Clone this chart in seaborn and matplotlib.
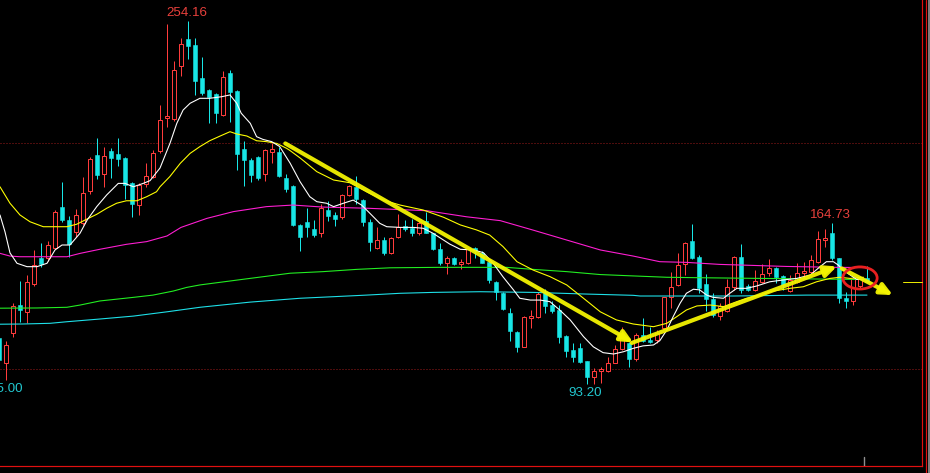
import numpy as np
import pandas as pd
import matplotlib
matplotlib.use("Agg")
import matplotlib.pyplot as plt
from matplotlib.lines import Line2D
from matplotlib.patches import Ellipse
import seaborn as sns

# ---------------- data ----------------
opens = [113.5, 102.5, 115.8, 128.3, 125.3, 137.6, 149.0, 149.0, 153.4, 171.6,
         166.0, 160.5, 164.8, 179.0, 194.8, 186.2, 196.5, 195.1, 193.6, 182.5,
         172.6, 181.9, 185.2, 196.7, 211.3, 210.7, 234.3, 246.2, 243.5, 228.8,
         223.6, 221.8, 212.5, 231.2, 223.1, 197.3, 192.6, 194.0, 186.4, 196.2,
         196.2, 184.5, 181.2, 163.8, 165.1, 162.0, 160.1, 170.4, 168.2, 167.2,
         177.1, 180.5, 174.8, 164.9, 153.4, 157.1, 151.2, 158.6, 163.2, 162.3,
         160.1, 165.7, 160.1, 153.1, 147.1, 149.0, 146.5, 147.1, 153.4, 151.5,
         147.5, 138.6, 133.8, 124.9, 116.5, 109.8, 122.4, 123.1, 133.5, 128.3,
         126.1, 114.6, 108.4, 109.4, 103.5, 96.3, 99.2, 99.2, 102.7, 108.7,
         111.6, 104.2, 115.0, 112.8, 112.8, 118.0, 131.7, 137.2, 146.5, 156.7,
         149.7, 137.6, 130.8, 123.4, 125.8, 136.1, 149.4, 136.7, 135.0, 138.6,
         142.6, 144.6, 141.2, 134.7, 138.6, 142.4, 143.1, 147.5, 157.1, 160.1,
         149.0, 131.3, 130.2, 136.7, 140.1]
closes = [104.0, 110.6, 127.9, 126.1, 138.4, 146.0, 146.5, 154.9, 169.4, 166.0,
          155.3, 168.2, 177.8, 192.9, 186.0, 194.3, 193.6, 193.1, 181.5, 173.1,
          181.5, 185.5, 195.5, 210.3, 212.1, 232.4, 243.9, 243.1, 227.7, 222.4,
          220.3, 213.5, 229.2, 222.8, 195.2, 192.6, 185.9, 184.5, 197.0, 197.3,
          185.6, 179.7, 163.8, 158.6, 163.0, 159.5, 171.3, 167.9, 166.5, 176.9,
          181.0, 175.2, 165.2, 156.4, 157.1, 151.2, 157.9, 162.7, 162.0, 160.3,
          164.8, 160.3, 153.0, 147.1, 149.0, 146.5, 147.5, 153.4, 152.4, 147.1,
          139.4, 134.2, 126.6, 116.9, 109.8, 122.9, 123.4, 133.2, 127.9, 125.6,
          114.3, 108.1, 105.1, 103.2, 96.3, 99.2, 99.8, 102.7, 108.7, 114.6,
          104.2, 115.0, 112.5, 112.0, 115.8, 131.7, 136.4, 146.0, 155.6, 149.3,
          135.7, 130.8, 123.9, 127.9, 136.1, 149.4, 135.0, 135.0, 139.1, 142.1,
          144.6, 140.6, 137.2, 139.4, 142.4, 143.4, 148.3, 157.4, 158.1, 149.0,
          131.3, 130.2, 139.7, 139.7, 138.6]
highs = [115.0, 112.5, 129.3, 138.9, 141.6, 152.7, 155.9, 156.7, 170.4, 183.0,
         167.8, 170.8, 185.2, 194.0, 202.2, 198.5, 197.7, 202.2, 194.0, 182.8,
         182.2, 191.1, 197.0, 216.9, 252.8, 236.4, 246.5, 254.16, 246.5, 238.3,
         224.0, 222.4, 232.0, 232.4, 223.6, 201.0, 193.3, 194.3, 197.3, 200.2,
         198.5, 186.4, 181.5, 164.2, 171.4, 166.0, 173.1, 174.5, 169.4, 177.5,
         181.5, 185.5, 175.2, 166.3, 162.7, 158.6, 158.3, 168.6, 166.0, 166.3,
         165.7, 169.7, 160.3, 155.6, 150.0, 149.7, 148.6, 154.1, 153.9, 152.4,
         148.0, 138.8, 134.0, 126.8, 116.7, 123.4, 126.1, 134.2, 135.3, 130.2,
         128.3, 114.8, 111.6, 111.6, 103.6, 100.3, 100.7, 105.4, 110.6, 118.7,
         112.0, 115.8, 122.4, 118.4, 117.2, 132.0, 143.1, 151.2, 156.4, 164.2,
         150.5, 142.1, 133.5, 129.1, 139.7, 150.0, 155.3, 137.6, 143.8, 146.5,
         148.6, 145.3, 141.6, 141.6, 146.8, 147.5, 150.5, 161.2, 161.8, 164.73,
         149.0, 134.2, 140.1, 139.9, 145.6]
lows = [103.0, 95.0, 114.0, 120.9, 120.2, 136.9, 145.3, 148.0, 153.0, 165.2,
        149.4, 158.3, 163.8, 177.4, 184.1, 180.5, 184.7, 189.9, 175.2, 167.4,
        168.2, 180.7, 184.5, 195.8, 207.1, 209.8, 229.9, 237.3, 221.4, 221.4,
        209.1, 208.8, 212.1, 209.5, 188.1, 181.2, 182.9, 183.7, 183.4, 191.1,
        185.2, 178.5, 163.3, 152.4, 158.6, 158.3, 158.3, 165.7, 163.3, 166.3,
        176.6, 173.1, 163.3, 152.4, 153.1, 150.5, 150.9, 157.9, 161.2, 158.9,
        159.3, 160.1, 152.7, 146.0, 142.1, 146.0, 144.1, 146.5, 149.0, 146.8,
        138.2, 130.5, 126.1, 112.5, 107.6, 109.6, 118.0, 122.4, 124.9, 124.6,
        111.3, 105.1, 103.2, 102.8, 93.2, 93.3, 93.9, 98.8, 102.5, 108.4,
        101.0, 103.6, 112.0, 111.3, 111.6, 117.5, 126.8, 136.7, 141.6, 148.6,
        133.5, 125.8, 122.9, 121.7, 125.3, 135.0, 133.5, 134.5, 134.7, 138.2,
        141.2, 138.2, 135.0, 134.2, 137.9, 140.1, 142.4, 146.8, 154.1, 148.3,
        129.1, 126.8, 128.3, 135.8, 138.3]

# moving-average lines, sampled along the picture (candle index, price)
ma_white_x = [0.14, 0.86, 1.57, 2.57, 4.0, 5.43, 6.86, 8.0, 9.0, 10.14, 11.57, 12.6, 13.96,
              15.39, 17.04, 18.0, 19.2, 20.6, 21.57, 23.0, 24.43, 25.4, 26.3, 27.3, 28.7,
              30.1, 31.8, 33.0, 33.96, 34.6, 35.9, 36.8, 37.7, 38.96, 40.1, 41.6, 43.0,
              44.4, 45.4, 46.8, 47.8, 49.2, 50.6, 51.8, 53.0, 54.4, 55.4, 57.3, 59.2,
              60.6, 62.0, 63.5, 64.4, 65.9, 67.8, 69.2, 70.6, 72.0, 73.5, 74.4, 75.9,
              77.3, 78.7, 80.1, 81.6, 83.5, 84.9, 86.3, 87.8, 89.2, 90.6, 92.0, 93.5,
              94.4, 95.4, 96.3, 97.3, 98.2, 99.2, 100.1, 101.1, 102.0, 103.5, 104.4,
              105.4, 106.8, 108.2, 110.1, 112.0, 113.96, 115.9, 117.3, 118.2, 119.2,
              119.9, 120.6, 121.6, 122.5, 123.5]
ma_white_y = [168.2, 160.7, 151.4, 146.8, 145.3, 145.3, 146.8, 152.7, 154.9, 154.9, 160.1,
              166.0, 171.9, 177.1, 182.2, 182.2, 180.7, 182.2, 183.4, 189.0, 200.0, 208.8,
              214.7, 217.7, 219.9, 219.9, 220.6, 221.4, 217.7, 213.3, 208.8, 202.9, 201.7,
              200.7, 198.5, 191.1, 183.0, 176.3, 174.1, 173.4, 171.9, 173.4, 174.8, 172.6,
              168.9, 164.5, 163.0, 162.7, 162.7, 162.3, 160.1, 157.1, 155.3, 153.0, 152.7,
              151.5, 146.8, 140.8, 135.0, 131.3, 130.5, 130.5, 129.8, 126.1, 121.7, 114.3,
              109.8, 107.2, 106.6, 107.6, 109.1, 110.2, 110.6, 112.5, 117.2, 123.1, 129.1,
              133.5, 135.3, 135.0, 132.7, 131.7, 131.3, 133.5, 135.7, 135.7, 136.7, 138.6,
              139.4, 140.1, 141.6, 145.3, 147.5, 147.5, 146.0, 143.8, 141.6, 139.7, 139.7]

ma_yellow_x = [0.14, 1.57, 3.0, 4.43, 6.33, 7.76, 9.67, 11.1, 12.5, 13.96, 15.4, 16.8, 18.2,
               19.7, 21.1, 22.5, 23.0, 24.4, 25.9, 27.3, 28.7, 30.1, 31.6, 33.0, 33.96,
               35.4, 36.8, 38.2, 39.7, 41.1, 41.6, 43.0, 45.4, 47.8, 50.1, 52.5, 54.9,
               57.3, 60.6, 63.5, 65.9, 68.2, 70.1, 72.0, 74.0, 76.3, 78.7, 81.1, 83.5,
               85.9, 88.2, 90.6, 93.5, 95.4, 96.8, 98.2, 99.7, 101.6, 103.5, 105.4, 106.8,
               108.7, 110.1, 113.0, 114.9, 116.8, 118.7, 120.1, 121.6, 123.5]
ma_yellow_y = [180.7, 173.4, 168.2, 165.2, 163.0, 163.0, 163.0, 164.1, 166.3, 168.5, 171.2,
               173.4, 174.5, 174.5, 176.3, 178.5, 180.7, 185.2, 191.1, 195.5, 198.5, 201.1,
               203.2, 205.1, 204.1, 203.2, 201.1, 200.7, 199.9, 197.7, 196.7, 193.5, 187.4,
               183.7, 182.5, 178.5, 174.8, 172.6, 170.4, 167.2, 163.8, 161.6, 159.3, 154.2,
               147.5, 143.8, 140.9, 137.2, 131.3, 125.3, 121.7, 119.9, 118.7, 120.2, 123.1,
               126.1, 127.9, 128.3, 127.6, 129.8, 131.3, 132.7, 134.2, 135.7, 136.4, 138.6,
               140.1, 140.6, 140.1, 140.6]

ma_magenta_x = [0.14, 1.57, 3.0, 9.7, 11.6, 14.4, 18.2, 21.1, 24.0, 26.0, 29.7, 33.5, 38.2,
                42.0, 46.3, 52.5, 61.1, 66.8, 71.6, 76.3, 81.1, 85.9, 90.6, 94.4, 98.2,
                103.0, 112.5, 119.7, 124.0]
ma_magenta_y = [151.2, 150.0, 149.7, 149.7, 151.2, 153.0, 155.2, 156.4, 158.9, 162.7, 166.7,
                169.7, 171.9, 172.6, 171.7, 171.2, 170.1, 167.4, 165.7, 161.5, 157.1, 152.7,
                150.0, 147.5, 147.2, 146.3, 145.4, 145.0, 144.9]

ma_green_x = [0.14, 5.43, 9.7, 11.6, 14.4, 19.2, 22.0, 24.9, 26.8, 28.7, 35.1, 41.6, 46.3,
              51.1, 55.9, 63.0, 72.5, 76.3, 81.1, 85.9, 90.6, 95.4, 100.1, 108.7, 124.0]
ma_green_y = [126.9, 127.0, 127.3, 128.3, 130.1, 131.7, 132.7, 134.5, 136.1, 137.2, 139.8,
              142.4, 143.1, 144.1, 144.8, 145.0, 145.0, 144.1, 143.1, 141.8, 141.2, 140.6,
              140.4, 140.1, 139.6]

ma_cyan_x = [0.14, 3.4, 7.3, 9.7, 14.4, 19.2, 24.0, 28.7, 35.9, 43.0, 47.8, 52.5, 57.3,
             62.0, 68.7, 76.3, 83.5, 90.6, 91.6, 104.9, 115.4, 124.0]
ma_cyan_y = [119.8, 119.9, 120.2, 120.9, 122.1, 123.4, 125.3, 127.3, 129.6, 131.3, 132.0,
             132.7, 133.5, 133.9, 134.2, 133.9, 133.2, 132.6, 132.3, 132.3, 132.7, 132.7]

# hand-drawn trend arrows: (start index, start price, tip index, tip price)
arrow_x0 = [40.9, 90.4, 120.4]
arrow_y0 = [199.9, 111.5, 144.5]
arrow_x1 = [90.6, 119.7, 127.7]
arrow_y1 = [111.7, 145.4, 132.7]

# price labels
label_text = ["254.16", "164.73", "93.20", "95.00"]
label_x = [26.8, 118.8, 83.7, 3.35]
label_y = [257.8, 168.3, 89.2, 91.1]
label_color = ["#e8403c", "#e8403c", "#22c8d0", "#22c8d0"]
label_ha = ["center", "center", "center", "right"]

gridlines = [100, 200]

# ---------------- styling ----------------
sns.set_theme(style="dark", rc={
    "axes.facecolor": "black",
    "figure.facecolor": "black",
    "axes.grid": False,
})
plt.rcParams["font.family"] = ["Liberation Sans", "DejaVu Sans"]

RED = "#ff3c3c"
CYAN = "#18e6e6"
PX = 0.72  # one pixel in points at dpi 100

W, H = 930, 473
fig = plt.figure(figsize=(W / 100, H / 100), dpi=100)
ax = fig.add_axes([0, 7 / H, 922 / W, 466 / H])
ax.set_facecolor("black")

n = len(opens)
idx = np.arange(n)
df = pd.DataFrame({"i": idx, "open": opens, "close": closes, "high": highs, "low": lows})
df["up"] = df["close"] >= df["open"]

# grid lines
for g in gridlines:
    ax.axhline(g, color="#9a1a1a", lw=PX, ls=(0, (1, 2)), zorder=1)

# wicks
colors = [RED if u else CYAN for u in df["up"]]
ax.vlines(df["i"], df["low"], df["high"], colors=colors, lw=PX, zorder=2)

# bodies
bw = 0.68
up = df[df["up"]]
dn = df[~df["up"]]
ax.bar(up["i"], np.maximum(up["close"] - up["open"], 0.45), bottom=up["open"], width=bw,
       facecolor="black", edgecolor=RED, linewidth=PX, zorder=3)
ax.bar(dn["i"], np.maximum(dn["open"] - dn["close"], 0.45), bottom=dn["close"], width=bw,
       facecolor=CYAN, edgecolor=CYAN, linewidth=0.4, zorder=3)

# moving averages via seaborn
ma_sets = [
    (ma_cyan_x, ma_cyan_y, "#1ee0e8"),
    (ma_green_x, ma_green_y, "#22ee22"),
    (ma_magenta_x, ma_magenta_y, "#ff1ed2"),
    (ma_yellow_x, ma_yellow_y, "#ffff00"),
    (ma_white_x, ma_white_y, "#ffffff"),
]
for xs, ys, c in ma_sets:
    d = pd.DataFrame({"x": xs, "y": ys})
    sns.lineplot(data=d, x="x", y="y", ax=ax, color=c, lw=PX * 1.1, sort=False,
                 estimator=None, zorder=4)

# arrows
for x0, y0, x1, y1 in zip(arrow_x0, arrow_y0, arrow_x1, arrow_y1):
    ax.annotate("", xy=(x1, y1), xytext=(x0, y0),
                arrowprops=dict(arrowstyle="-|>,head_length=0.9,head_width=0.42",
                                color="#f4f400", lw=3.0, shrinkA=0, shrinkB=0,
                                mutation_scale=8, alpha=0.95),
                zorder=6)

# red ellipse around the last candles
ax.add_patch(Ellipse((123.0, 140.3), 4.9, 9.8, fill=False, edgecolor="#e82020",
                     lw=2.0, zorder=7))

# last price marker
ax.plot([129.2, 131.9], [closes[-1], closes[-1]], color="#e8e800", lw=PX, zorder=5,
        clip_on=False)

# labels
for t, x, y, c, ha in zip(label_text, label_x, label_y, label_color, label_ha):
    ax.text(x, y, t, color=c, fontsize=9.6, ha=ha, va="center", zorder=8)

# axes limits
ax.set_xlim(1 / 7, 923 / 7)
ax.set_ylim(263.46 - 0.4431 * 466, 263.46)
ax.set_xticks([])
ax.set_yticks([])
ax.set_xlabel("")
ax.set_ylabel("")
for s in ["top", "left"]:
    ax.spines[s].set_visible(False)
for s in ["bottom", "right"]:
    ax.spines[s].set_visible(True)
    ax.spines[s].set_color("#e01010")
    ax.spines[s].set_linewidth(PX * 1.2)

# small tick at the bottom
ax.axvline(123.6, ymin=0, ymax=9 / 466, color="#909090", lw=PX * 1.4, zorder=5)

# right-hand frame lines
fig.add_artist(Line2D([925.5 / W] * 2, [0, 1], transform=fig.transFigure,
                      color="#e01010", lw=PX * 1.2))
fig.add_artist(Line2D([928.5 / W] * 2, [0, 1], transform=fig.transFigure,
                      color="#7a7a7a", lw=PX * 2))

fig.savefig("out.png", dpi=100, facecolor="black")
